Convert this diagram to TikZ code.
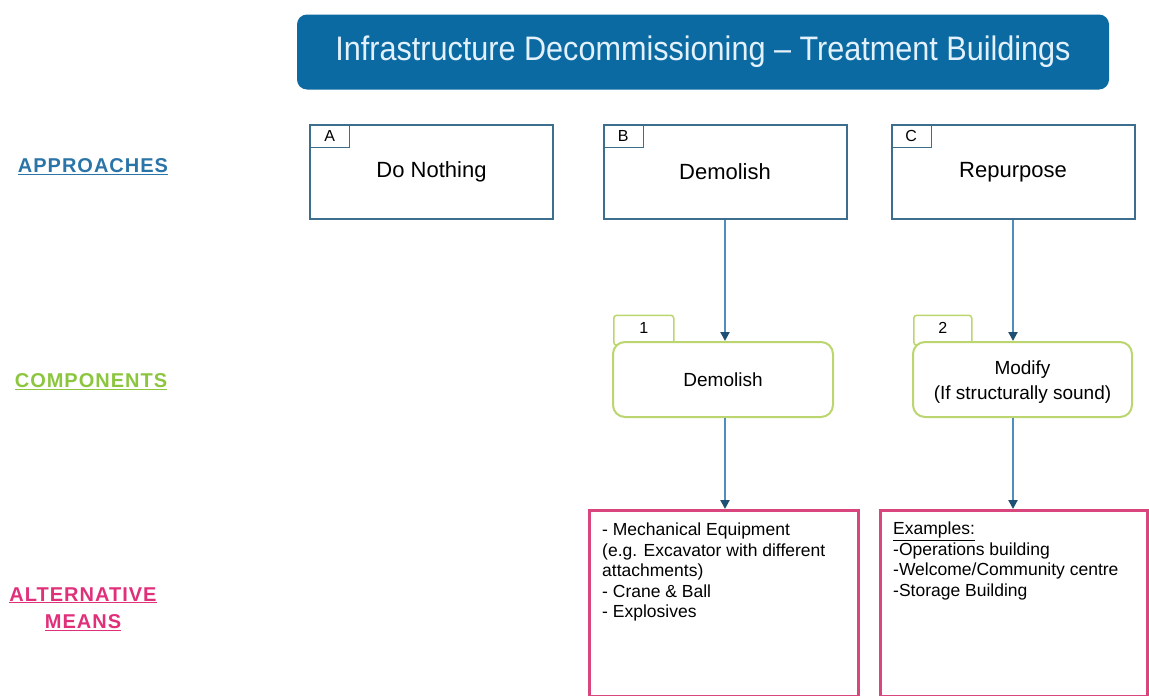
\documentclass[tikz,border=0pt]{standalone}
\usepackage{fontspec}
\setmainfont{Liberation Sans}
\newfontfamily\headfont{Liberation Sans}[FakeStretch=0.9, Ligatures=TeX]
\newfontfamily\rowfont{Liberation Sans}[LetterSpace=5]
\usetikzlibrary{arrows.meta}

\definecolor{titleblue}{HTML}{0B6AA2}
\definecolor{titletext}{HTML}{E2F1FB}
\definecolor{apborder}{HTML}{3E6E8E}
\definecolor{compborder}{HTML}{BCD66F}
\definecolor{meansborder}{HTML}{D9467E}
\definecolor{linkblue}{HTML}{4F8DBA}
\definecolor{tipblue}{HTML}{1F4F72}
\definecolor{lblblue}{HTML}{2B74A8}
\definecolor{lblgreen}{HTML}{8CC63F}
\definecolor{lblpink}{HTML}{E0307A}

\newcommand{\fsz}[2]{\fontsize{#1}{#2}\selectfont}

\tikzset{
  titlebox/.style={fill=titleblue, rounded corners=10pt, minimum width=812, minimum height=75,
    text=titletext, font=\headfont\fsz{34}{38}},
  apbox/.style={draw=apborder, line width=2pt, fill=white, minimum width=243, minimum height=94,
    font=\fsz{22}{26}},
  aptab/.style={draw=apborder, line width=1.3pt, minimum width=40, minimum height=23,
    inner sep=0pt, font=\fsz{16}{18}, anchor=north west},
  compbox/.style={draw=compborder, line width=2pt, fill=white, rounded corners=12pt,
    minimum height=75, align=center, font=\fsz{19}{25}},
  comptab/.style={draw=compborder, line width=1.5pt, fill=white, rounded corners=3pt,
    minimum height=30, inner sep=0pt, font=\fsz{16}{18}, anchor=south west},
  meansbox/.style={draw=meansborder, line width=3pt, fill=white, minimum width=269,
    minimum height=186, anchor=north west},
  meanstext/.style={anchor=north west, align=left, inner sep=0pt, font=\fsz{17.5}{20.5}},
  sidelabel/.style={font=\rowfont\bfseries\fsz{20}{27}, align=center},
  link/.style={draw=linkblue, line width=2pt,
    -{Triangle[length=9pt, width=9pt, fill=tipblue, color=tipblue]}},
}

\begin{document}
\begin{tikzpicture}[x=1pt, y=-1pt]
\useasboundingbox (0,0) rectangle (1149,696);

% heading
\node[titlebox] (title) at (703,52) {Infrastructure Decommissioning – Treatment Buildings};

% row labels
\node[sidelabel, text=lblblue] (lapp) at (93,167) {\underline{APPROACHES}};
\node[sidelabel, text=lblgreen] (lcomp) at (91,382) {\underline{COMPONENTS}};
\node[sidelabel, text=lblpink] (lmeans) at (83,609) {\underline{ALTERNATIVE}\\\underline{MEANS}};

% approaches
\node[apbox] (A) at (431.5,172) {Do Nothing};
\node[apbox] (B) at (725,172) {Demolish};
\node[apbox] (C) at (1013,172) {Repurpose};
\node[aptab] (Atab) at (A.north west) {A};
\node[aptab] (Btab) at (B.north west) {B};
\node[aptab] (Ctab) at (C.north west) {C};

% components (tabs first so the boxes cover their lower edge)
\node[comptab, minimum width=60] (c1tab) at (613,346) {\raisebox{4pt}{1}};
\node[comptab, minimum width=58] (c2tab) at (913,346) {\raisebox{4pt}{2}};
\node[compbox, minimum width=220] (c1) at (723,379.5) {Demolish};
\node[compbox, minimum width=219] (c2) at (1022.5,379.5) {\rule{0pt}{19pt}Modify\\(If structurally sound)};

% alternative means
\node[meansbox] (m1) at (588,509) {};
\node[meansbox, minimum width=267] (m2) at (879,509) {};
\node[meanstext] (m1t) at (602,523) {- Mechanical Equipment\\(e.g. Excavator with different\\attachments)\\- Crane \& Ball\\- Explosives};
\node[meanstext] (m2t) at (893,522) {\underline{Examples:}\\-Operations building\\-Welcome/Community centre\\-Storage Building};

% connectors
\draw[link] (B.south) -- (B.south |- c1.north);
\draw[link] (C.south) -- (C.south |- c2.north);
\draw[link] (c1.south -| B.south) -- (B.south |- m1.north);
\draw[link] (c2.south -| C.south) -- (C.south |- m2.north);
\end{tikzpicture}
\end{document}
